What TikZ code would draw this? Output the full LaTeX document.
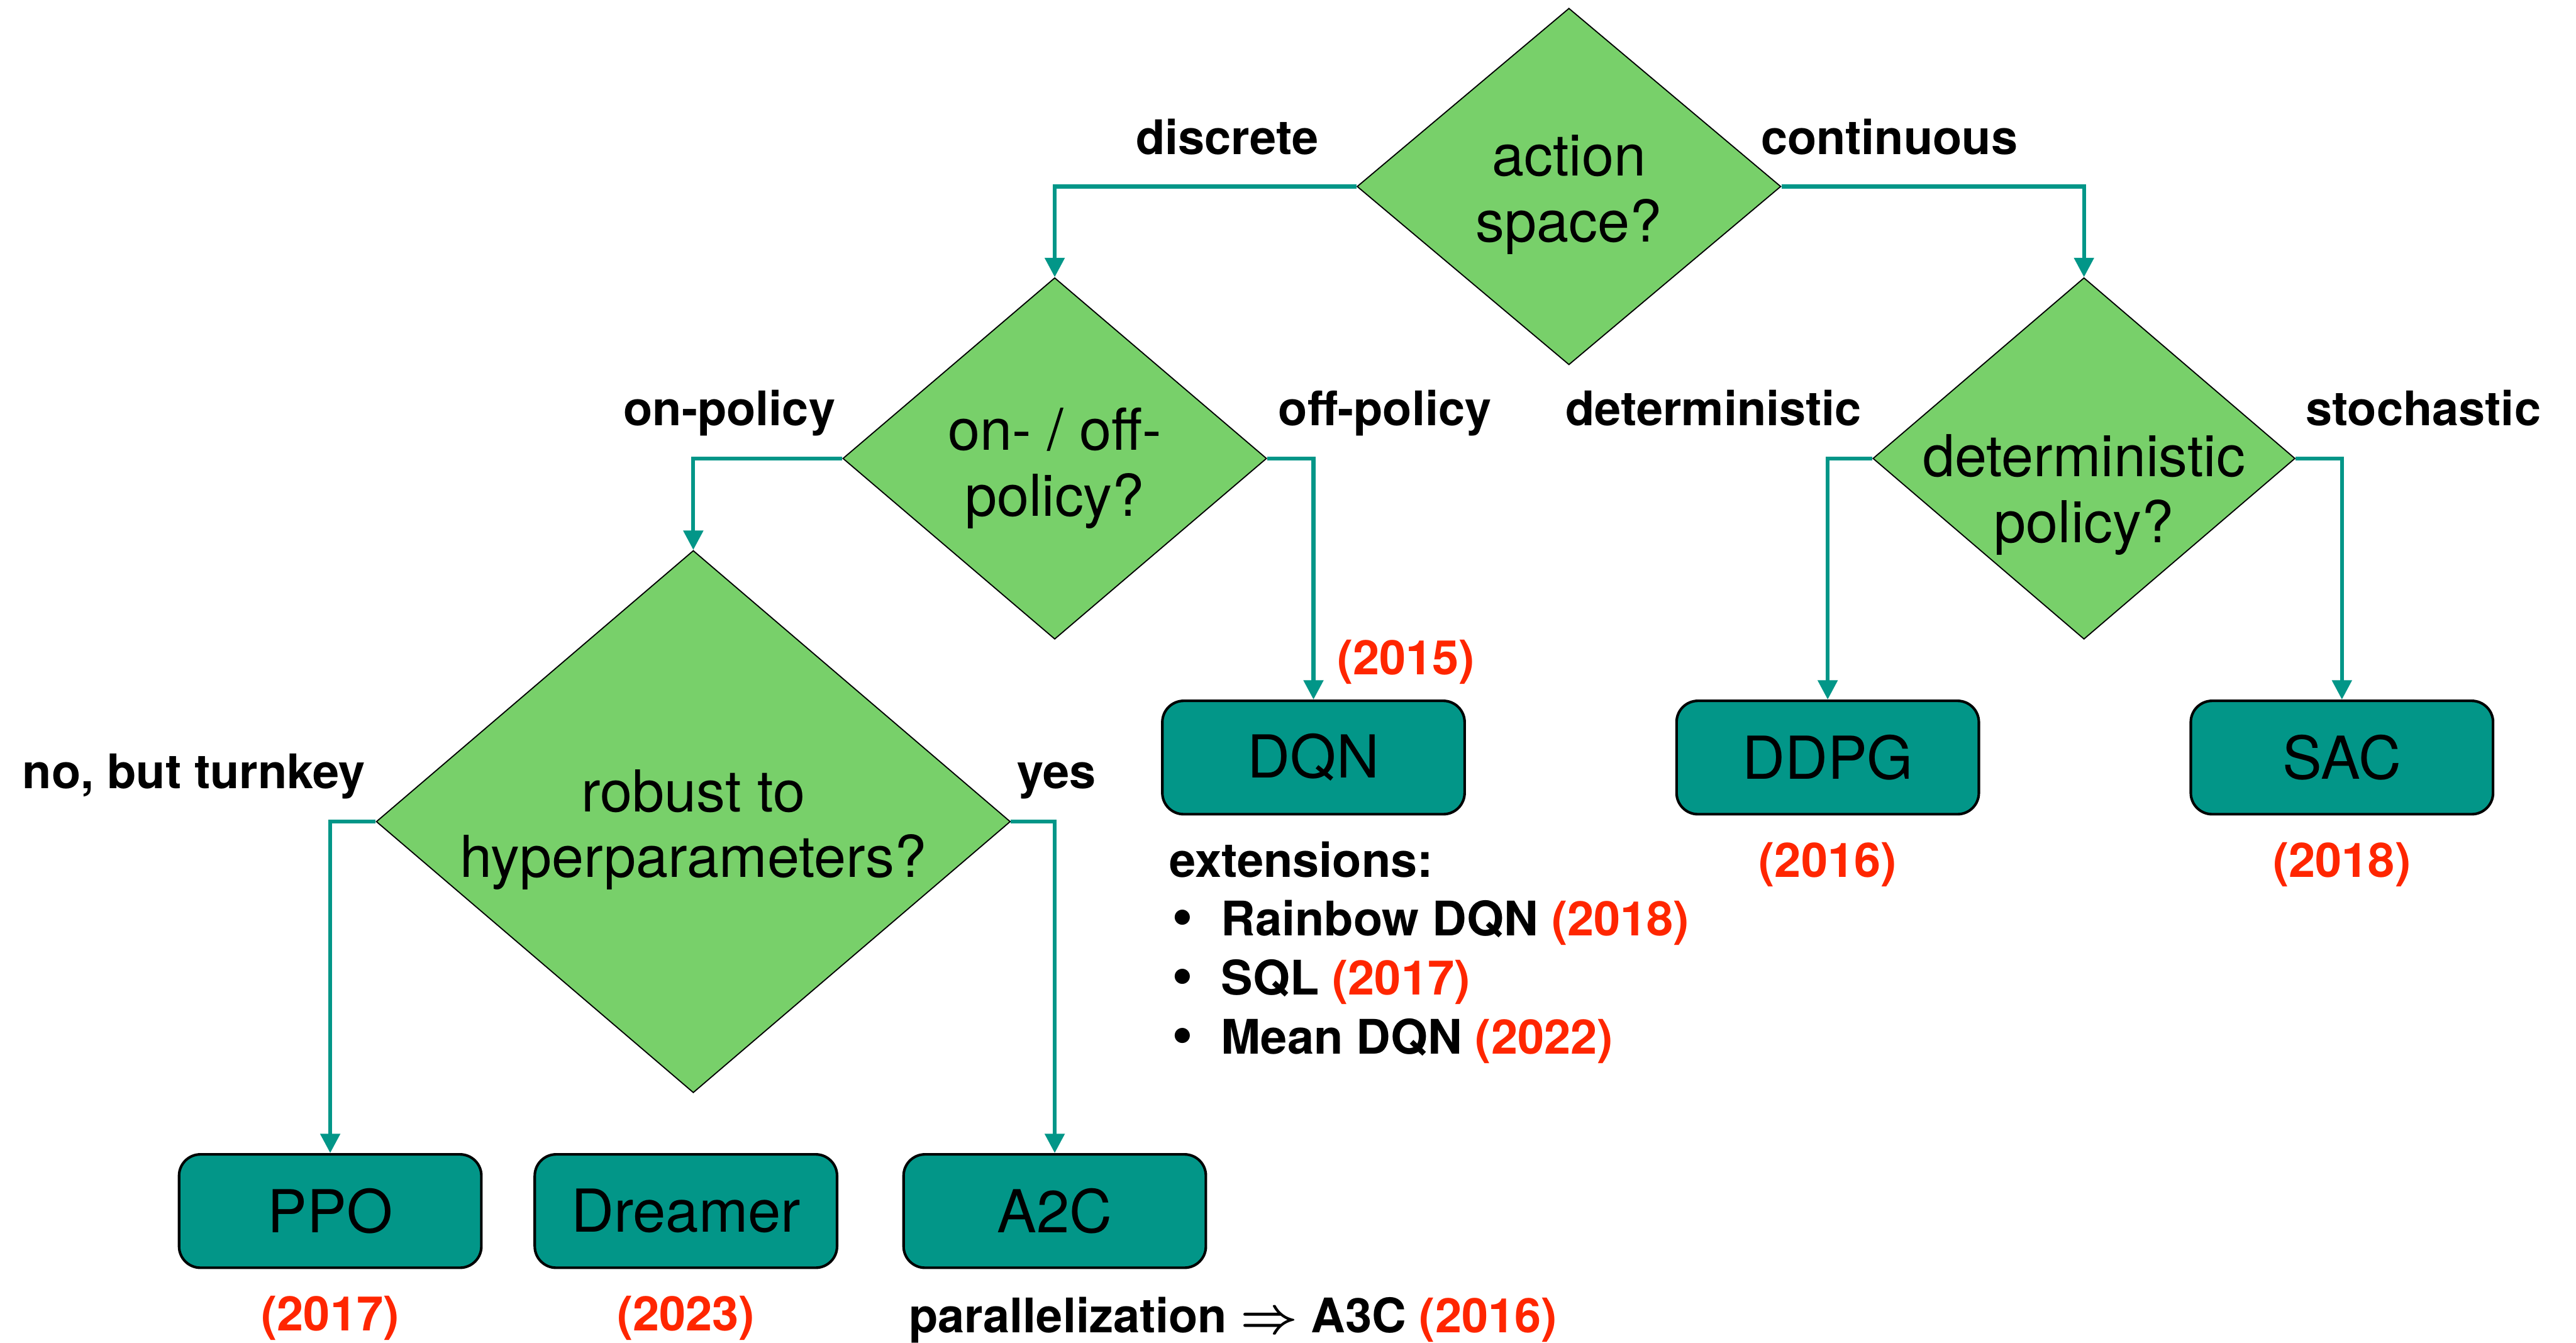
\documentclass[tikz,border=0pt]{standalone}
\usepackage{fontspec}
\setmainfont{TeX Gyre Heros}
\usetikzlibrary{shapes.geometric,arrows.meta}
\definecolor{qgreen}{RGB}{120,208,106}
\definecolor{boxteal}{RGB}{2,150,136}
\definecolor{yrred}{RGB}{255,38,0}
\newcommand{\yr}[1]{\textcolor{yrred}{#1}}
\newcommand{\itm}{\makebox[0.6cm][l]{\fontsize{21}{20}\selectfont\textbullet}}
\begin{document}
\begin{tikzpicture}[>={Triangle[length=0.235cm,width=0.235cm]},
  dia/.style={diamond, draw=black, line width=0.4pt, fill=qgreen, inner sep=0pt},
  qtxt/.style={align=center, font=\fontsize{20}{22.8}\selectfont},
  algo/.style={rectangle, rounded corners=0.26cm, draw=black, line width=0.9pt, fill=boxteal,
    minimum width=3.68cm, minimum height=1.38cm, font=\fontsize{20.5}{24}\selectfont},
  lbl/.style={font=\fontsize{16.5}{20}\selectfont\bfseries, inner sep=0pt},
  arr/.style={->, draw=boxteal, line width=1.35pt}]
\useasboundingbox (0,0) rectangle (31.36,-16.34);
% questions
\node[dia, minimum width=5.16cm, minimum height=4.34cm, label={[qtxt, yshift=-0.1cm]center:action\\space?}] (q1) at (19.1,-2.27) {};
\node[dia, minimum width=5.16cm, minimum height=4.4cm, label={[qtxt, yshift=-0.12cm]center:on- / off-\\policy?}] (q2) at (12.84,-5.58) {};
\node[dia, minimum width=5.14cm, minimum height=4.4cm, label={[qtxt, yshift=-0.44cm]center:deterministic\\policy?}] (q4) at (25.37,-5.58) {};
\node[dia, minimum width=7.72cm, minimum height=6.6cm, label={[qtxt, yshift=-0.1cm]center:robust to\\hyperparameters?}] (q3) at (8.44,-10) {};
% algorithms
\node[algo] (dqn) at (15.99,-9.22) {DQN};
\node[algo] (ddpg) at (22.25,-9.22) {DDPG};
\node[algo] (sac) at (28.51,-9.22) {SAC};
\node[algo] (ppo) at (4.02,-14.74) {PPO};
\node[algo] (dreamer) at (8.35,-14.74) {Dreamer};
\node[algo] (a2c) at (12.84,-14.74) {A2C};
% connectors
\draw[arr] (q1.west) -| (q2.north);
\draw[arr] (q1.east) -| (q4.north);
\draw[arr] (q2.west) -| (q3.north);
\draw[arr] (q2.east) -| (dqn.north);
\draw[arr] (q4.west) -| (ddpg.north);
\draw[arr] (q4.east) -| (sac.north);
\draw[arr] (q3.west) -| (ppo.north);
\draw[arr] (q3.east) -| (a2c.north);
% branch labels
\node[lbl, anchor=base] (lq1a) at (14.94,-1.88) {discrete};
\node[lbl, anchor=base] (lq1b) at (23.0,-1.88) {continuous};
\node[lbl, anchor=base] (lq2a) at (8.88,-5.18) {on-policy};
\node[lbl, anchor=base] (lq2b) at (16.86,-5.18) {off-policy};
\node[lbl, anchor=base] (lq4a) at (20.86,-5.18) {deterministic};
\node[lbl, anchor=base] (lq4b) at (29.5,-5.18) {stochastic};
\node[lbl, anchor=base] (lq3a) at (2.36,-9.6) {no, but turnkey};
\node[lbl, anchor=base] (lq3b) at (12.86,-9.6) {yes};
% years
\node[lbl, anchor=base west] (ydqn) at (16.27,-8.21) {\yr{(2015)}};
\node[lbl, anchor=base] (yddpg) at (22.25,-10.68) {\yr{(2016)}};
\node[lbl, anchor=base] (ysac) at (28.51,-10.68) {\yr{(2018)}};
\node[lbl, anchor=base] (yppo) at (4.02,-16.2) {\yr{(2017)}};
\node[lbl, anchor=base] (ydreamer) at (8.35,-16.2) {\yr{(2023)}};
\node[lbl, anchor=base west] (ya3c) at (11.06,-16.22) {parallelization {\boldmath$\Rightarrow$} A3C \yr{(2016)}};
% DQN extensions
\node[lbl, anchor=base west] (ext) at (14.23,-10.68) {extensions:};
\node[lbl, anchor=base west] (ext1) at (14.26,-11.39) {\itm Rainbow DQN \yr{(2018)}};
\node[lbl, anchor=base west] (ext2) at (14.26,-12.11) {\itm SQL \yr{(2017)}};
\node[lbl, anchor=base west] (ext3) at (14.26,-12.83) {\itm Mean DQN \yr{(2022)}};
\end{tikzpicture}
\end{document}
